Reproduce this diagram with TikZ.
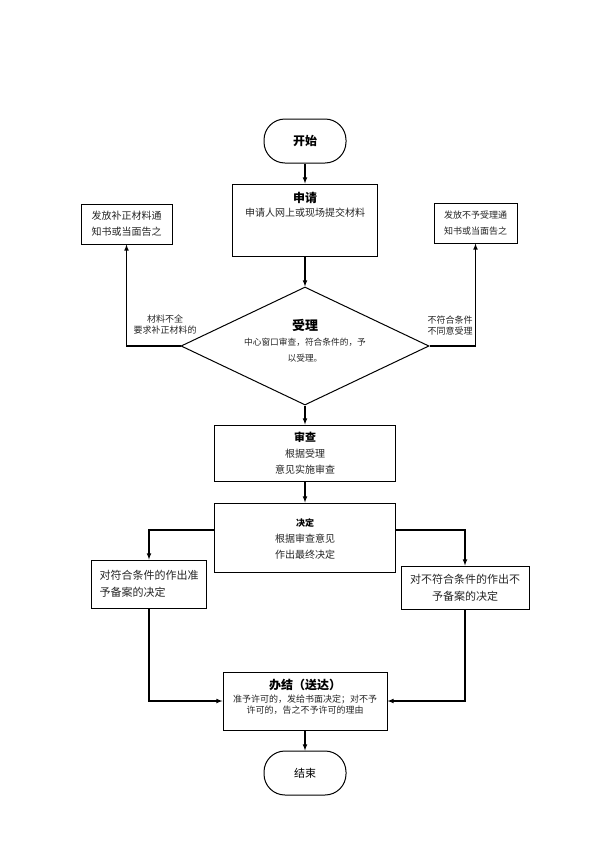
\documentclass[tikz,border=0pt]{standalone}
\usepackage{fontspec}
\setmainfont{Noto Sans CJK SC}
\usepackage{tikz}
\usetikzlibrary{shapes.geometric}
\tikzstyle{stepbox} = [draw=black, line width=1pt, rectangle, inner sep=0pt, align=center]
\tikzstyle{ends} = [stepbox, rounded corners=21pt, minimum width=82pt, minimum height=44pt]
\tikzstyle{body} = [text=black!85, align=center, inner sep=0pt, font=\fontsize{10}{16}\selectfont]
\tikzstyle{small} = [body, font=\fontsize{9}{11}\selectfont]
\tikzstyle{title} = [inner sep=0pt, font=\bfseries\fontsize{12}{14}\selectfont]
\tikzstyle{flow} = [draw=black, line width=1.1pt, -latex]

\begin{document}
\begin{tikzpicture}[x=1pt, y=-1pt]
    \useasboundingbox[fill=white] (0,0) rectangle (600,849);
    \node [ends] (start) at (305,141) {\bfseries\fontsize{12}{14}\selectfont 开始};
    \node [stepbox, minimum width=145pt, minimum height=72pt] (apply) at (305,220) {};
    \node [title] (applyt) at (305,198) {申请};
    \node [body] (applyb) at (305,213) {申请人网上或现场提交材料};
    \node [stepbox, body, draw=black, minimum width=91pt, minimum height=40pt] (leftnote) at (126.5,224) {发放补正材料通\\知书或当面告之};
    \node [stepbox, small, draw=black, minimum width=83pt, minimum height=40pt, font=\fontsize{9}{16}\selectfont] (rightnote) at (475.5,223) {发放不予受理通\\知书或当面告之};
    \node [diamond, draw=black, line width=1pt, inner sep=0pt, minimum width=248pt, minimum height=118pt] (accept) at (305,346) {};
    \node [title, font=\bfseries\fontsize{13}{14}\selectfont] (acceptt) at (305,325) {受理};
    \node [small, font=\fontsize{8.7}{16}\selectfont] (acceptb) at (305,350) {中心窗口审查，符合条件的，予\\以受理。};
    \node [small] (leftlab) at (165,325) {材料不全\\要求补正材料的};
    \node [small] (rightlab) at (450,326) {不符合条件\\不同意受理};
    \node [stepbox, minimum width=181pt, minimum height=56pt] (review) at (305,453) {};
    \node [title, font=\bfseries\fontsize{11}{14}\selectfont] (reviewt) at (305,437) {审查};
    \node [body] (reviewb) at (305,461.5) {根据受理\\意见实施审查};
    \node [stepbox, minimum width=181pt, minimum height=69pt] (decide) at (305,537.5) {};
    \node [title, font=\bfseries\fontsize{9}{14}\selectfont] (decidet) at (305,523) {决定};
    \node [body] (decideb) at (305,547) {根据审查意见\\作出最终决定};
    \node [stepbox, body, draw=black, minimum width=115pt, minimum height=48pt, align=left, font=\fontsize{11}{17}\selectfont] (leftres) at (149,584) {对符合条件的作出准\\予备案的决定};
    \node [stepbox, body, draw=black, minimum width=128pt, minimum height=43pt, font=\fontsize{11}{17}\selectfont] (rightres) at (465,587.5) {对不符合条件的作出不\\予备案的决定};
    \node [stepbox, minimum width=164pt, minimum height=58pt] (done) at (305,701) {};
    \node [title, font=\bfseries\fontsize{12}{14}\selectfont] (donet) at (305,685) {办结（送达）};
    \node [small, font=\fontsize{9}{10.5}\selectfont] (doneb) at (305,704.5) {准予许可的，发给书面决定；对不予\\许可的，告之不予许可的理由};
    \node [ends] (stop) at (305,773) {\fontsize{11}{14}\selectfont 结束};

    \draw [flow] (start) -- (apply);
    \draw [flow] (apply) -- (accept);
    \draw [flow] (accept.west) -| (leftnote.south);
    \draw [flow] (accept.east) -| (rightnote.south);
    \draw [flow] (accept) -- (review);
    \draw [flow] (review) -- (decide);
    \draw [flow] ([yshift=7.5pt]decide.west) -| (leftres.north);
    \draw [flow] ([yshift=7.5pt]decide.east) -| (rightres.north);
    \draw [flow] (leftres.south) |- (done.west);
    \draw [flow] (rightres.south) |- (done.east);
    \draw [flow] (done) -- (stop);
\end{tikzpicture}
\end{document}
